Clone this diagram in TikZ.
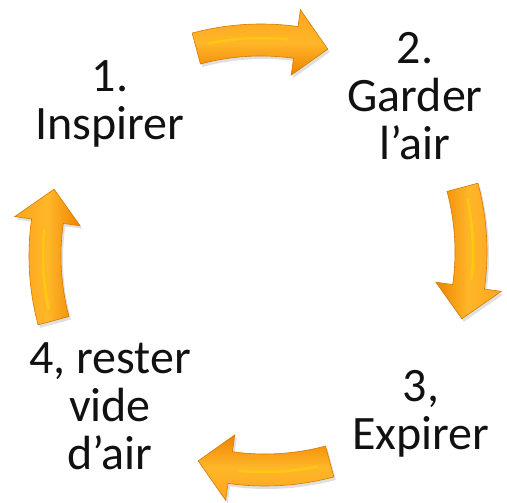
\documentclass[tikz,border=0pt]{standalone}
\usepackage{fontspec}
\setmainfont{Carlito}
\usepackage{tikz}
\usetikzlibrary{positioning,shadows}
\definecolor{arrowlight}{HTML}{FFA61E}
\definecolor{arrowmid}{HTML}{FFB629}
\definecolor{arrowdark}{HTML}{EE8400}
\definecolor{arrowedge}{HTML}{D67800}
\definecolor{textdark}{HTML}{111111}
\tikzset{
    steplabel/.style={align=center, anchor=base, text=textdark, font=\fontsize{48}{48}\selectfont},
    arrowbody/.style={draw=arrowedge, line width=0.6pt, top color=arrowlight, bottom color=arrowdark, middle color=arrowmid,
        drop shadow={shadow xshift=2pt, shadow yshift=-3pt, opacity=0.25, fill=black!50}},
    shine/.style={line width=2.5pt, line cap=round, color=yellow!70!orange, opacity=0.7},
    pics/cyclearrow/.style={code={
        \begin{scope}[rotate=#1, shift={(0,-250)}]
            \path[arrowbody, shading angle=#1]
                (105:266pt) arc[start angle=105, end angle=82, radius=266pt]
                -- (82:283pt) -- (74.5:250pt) -- (82:217pt) -- (82:234pt)
                arc[start angle=82, end angle=105, radius=234pt] -- cycle;
            \draw[shine] (102:252pt) arc[start angle=102, end angle=84, radius=252pt];
        \end{scope}
    }}
}

\begin{document}
\begin{tikzpicture}[x=1pt, y=1pt]
\useasboundingbox (0,0) rectangle (507,503);

% labels of the four steps (base = last line)
\node[steplabel] (inspirer) at (110,363) {1.\\Inspirer};
\node[steplabel] (garder) at (415,343) {2.\\Garder\\l’air};
\node[steplabel] (expirer) at (421,53) {3,\\Expirer};
\node[steplabel] (vide) at (110,33) {4, rester\\vide\\d’air};

% arrows of the cycle
\coordinate (a12) at (261,463);
\coordinate (a23) at (471,251);
\coordinate (a34) at (265,33);
\coordinate (a41) at (45,247);
\pic at (a12) {cyclearrow=0};
\pic at (a23) {cyclearrow=-90};
\pic at (a34) {cyclearrow=180};
\pic at (a41) {cyclearrow=90};

\end{tikzpicture}
\end{document}
